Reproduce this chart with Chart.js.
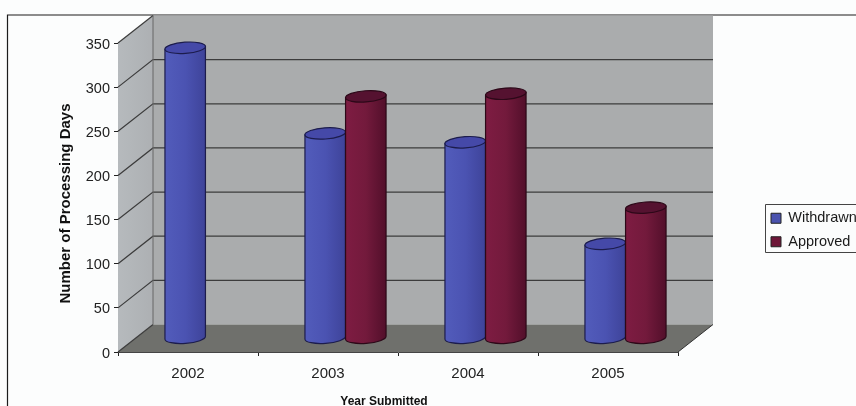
<!DOCTYPE html>
<html><head><meta charset="utf-8">
<style>html,body{margin:0;padding:0;background:#fcfdfd;overflow:hidden}canvas{display:block}</style>
<script src="https://cdn.jsdelivr.net/npm/chart.js@4"></script></head>
<body><canvas id="c" width="856" height="406" style="width:856px;height:406px"></canvas>
<script>
const categories = ['2002','2003','2004','2005'];
const withdrawn = [329, 232, 222, 107];
const approved = [null, 274, 277, 148];
const yTicks = [0,50,100,150,200,250,300,350];
const seriesNames = ['Withdrawn','Approved'];
const seriesColors = ['#4a52ae','#6e1638'];
const shade = [['#525cbb','#4b53b2','#3e4399'],['#7e1c42','#731a3c','#520f2a']];
const topFill = ['#4549a8','#551230'];
const outline = ['#1c1c4c','#2c0818'];
const depth = {dx:35, dy:-27.5};
const titleShift = {x:[-14,3], y:[0,6]};

function poly(ctx, pts, fill){
  ctx.beginPath(); pts.forEach((p,i)=> i?ctx.lineTo(p[0],p[1]):ctx.moveTo(p[0],p[1])); ctx.closePath();
  ctx.fillStyle=fill; ctx.fill();
}
function shiftTitle(s,[dx,dy]){
  if(s._shifted) return; s._shifted=true;
  const draw=s.drawTitle;
  s.drawTitle=function(){
    this.left+=dx;this.right+=dx;this.top+=dy;this.bottom+=dy;
    draw.call(this);
    this.left-=dx;this.right-=dx;this.top-=dy;this.bottom-=dy;
  };
}
const scene3d = {
  id:'scene3d',
  afterLayout(chart){
    const l=chart.legend; l.left=762; l.top=202; l.right=870; l.bottom=300; l.adjustHitBoxes();
    shiftTitle(chart.scales.x,titleShift.x); shiftTitle(chart.scales.y,titleShift.y);
  },
  beforeDatasetsDraw(chart){
    const {ctx,chartArea:a,scales:{y}}=chart;
    const d=depth;
    ctx.save();
    // walls
    poly(ctx,[[a.left+d.dx,a.top+d.dy],[a.right+d.dx,a.top+d.dy],[a.right+d.dx,a.bottom+d.dy],[a.left+d.dx,a.bottom+d.dy]],'#aaacad');
    const sg=ctx.createLinearGradient(a.left,0,a.left+d.dx,0); sg.addColorStop(0,'#b6babd'); sg.addColorStop(1,'#adb0b3');
    poly(ctx,[[a.left,a.top],[a.left+d.dx,a.top+d.dy],[a.left+d.dx,a.bottom+d.dy],[a.left,a.bottom]],sg);
    poly(ctx,[[a.left,a.bottom],[a.left+d.dx,a.bottom+d.dy],[a.right+d.dx,a.bottom+d.dy],[a.right,a.bottom]],'#6f706c');
    // gridlines through the y scale
    ctx.strokeStyle='#3c3c3c'; ctx.lineWidth=1.2;
    yTicks.forEach(v=>{
      const py=y.getPixelForValue(v);
      ctx.beginPath();
      ctx.moveTo(a.left,py); ctx.lineTo(a.left+d.dx,py+d.dy);
      if(v>0&&v<350) ctx.lineTo(a.right+d.dx,py+d.dy);
      ctx.stroke();
    });
    ctx.strokeStyle='#666'; ctx.lineWidth=1;
    ctx.beginPath(); ctx.moveTo(a.left+d.dx,a.top+d.dy); ctx.lineTo(a.left+d.dx,a.bottom+d.dy); ctx.stroke();
    ctx.strokeStyle='#333';
    ctx.beginPath(); ctx.moveTo(a.right,a.bottom); ctx.lineTo(a.right+d.dx,a.bottom+d.dy); ctx.stroke();
    // cylinders from the bar elements
    const tilt=-0.07;
    chart.data.datasets.forEach((ds,i)=>{
      chart.getDatasetMeta(i).data.forEach((bar,j)=>{
        if(ds.data[j]==null) return;
        const {x,y:top,base,width}=bar.getProps(['x','y','base','width'],true);
        const cx=x+d.dx/2, yt=top+d.dy/2, yb=base+d.dy/2, rx=width/2, ry=5.6;
        const sy=rx*Math.sin(-tilt), sx=rx*Math.cos(tilt);
        const g=ctx.createLinearGradient(cx-rx,0,cx+rx,0);
        g.addColorStop(0,shade[i][0]); g.addColorStop(.5,shade[i][1]); g.addColorStop(1,shade[i][2]);
        ctx.beginPath(); ctx.moveTo(cx-sx,yt+sy); ctx.lineTo(cx-sx,yb+sy);
        ctx.ellipse(cx,yb,rx,ry,tilt,Math.PI,0,true);
        ctx.lineTo(cx+sx,yt-sy); ctx.closePath();
        ctx.fillStyle=g; ctx.fill();
        ctx.strokeStyle=outline[i]; ctx.lineWidth=1.2; ctx.stroke();
        ctx.beginPath(); ctx.ellipse(cx,yt,rx,ry,tilt,0,Math.PI*2);
        ctx.fillStyle=topFill[i]; ctx.fill(); ctx.stroke();
      });
    });
    ctx.restore();
    return false;
  },
  beforeDraw(chart){
    const ctx=chart.ctx; ctx.save();
    ctx.fillStyle='#fcfdfd'; ctx.fillRect(0,0,856,406);
    // outer chart frame
    ctx.strokeStyle='#1c1c1c'; ctx.lineWidth=1.2;
    ctx.beginPath(); ctx.moveTo(7.5,406); ctx.lineTo(7.5,15); ctx.lineTo(856,15); ctx.stroke();
    // legend frame
    ctx.strokeStyle='#444'; ctx.lineWidth=1; ctx.fillStyle='#fbfcfc';
    ctx.beginPath(); ctx.rect(765.5,204.5,100,48); ctx.fill(); ctx.stroke();
    ctx.restore();
  }
};
new Chart(document.getElementById('c'),{
  type:'bar',
  data:{labels:categories,datasets:[
    {label:seriesNames[0],data:withdrawn,backgroundColor:seriesColors[0],borderColor:'#222',borderWidth:1},
    {label:seriesNames[1],data:approved,backgroundColor:seriesColors[1],borderColor:'#222',borderWidth:1}
  ]},
  plugins:[scene3d],
  options:{
    responsive:false,animation:false,
    layout:{padding:{top:43,right:178,left:0,bottom:0}},
    categoryPercentage:0.58,barPercentage:1,
    plugins:{
      tooltip:{enabled:false},
      legend:{position:'chartArea',align:'start',labels:{boxWidth:10,boxHeight:10,padding:9,color:'#1a1a1a',font:{family:'Liberation Sans',size:14.5}}}
    },
    scales:{
      x:{
        afterFit(s){s.height=54;},
        grid:{drawOnChartArea:false,drawTicks:true,tickLength:4,color:'#222'},
        border:{color:'#444',width:1},
        ticks:{color:'#222',padding:9,maxRotation:0,font:{family:'Liberation Sans',size:15}},
        title:{display:true,text:'Year Submitted',color:'#111',font:{family:'Liberation Sans',size:12,weight:'bold'},padding:{top:0,bottom:0}}
      },
      y:{
        min:0,max:350,
        afterFit(s){s.width=118;},
        afterBuildTicks(s){s.ticks=yTicks.map(v=>({value:v}));},
        grid:{drawOnChartArea:false,drawTicks:true,tickLength:4,color:'#222'},
        border:{display:false},
        ticks:{color:'#222',padding:4,labelOffset:1.5,font:{family:'Liberation Sans',size:14.5}},
        title:{display:true,text:'Number of Processing Days',color:'#111',font:{family:'Liberation Sans',size:15,weight:'bold'},padding:{top:57,bottom:0}}
      }
    }
  }
});
</script></body></html>
